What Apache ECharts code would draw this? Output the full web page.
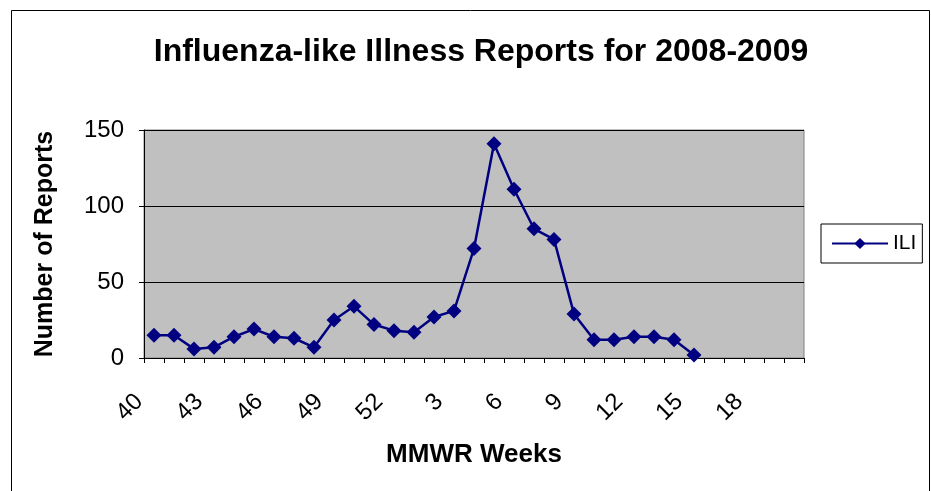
<!DOCTYPE html>
<html>
<head>
<meta charset="utf-8">
<script src="https://cdn.jsdelivr.net/npm/echarts@6/dist/echarts.min.js"></script>
<style>
  html, body { margin: 0; padding: 0; background: #fff; }
  #main { width: 931px; height: 491px; }
</style>
</head>
<body>
<div id="main"></div>
<script>
// MMWR weeks 40-52 of 2008, then 1-20 of 2009
const weeks = ['40','41','42','43','44','45','46','47','48','49','50','51','52',
  '1','2','3','4','5','6','7','8','9','10','11','12','13','14','15','16','17','18','19','20']
// ILI report counts (no data after week 15)
const iliCounts = [15, 15, 6, 7, 14, 19, 14, 13, 7, 25, 34, 22, 18,
  17, 27, 31, 72, 141, 111, 85, 78, 29, 12, 12, 14, 14, 12, 2, null, null, null, null, null]
const yTicks = { min: 0, max: 150, step: 50 }

const font = 'Liberation Sans, Arial, sans-serif'
const myChart = echarts.init(document.getElementById('main'))

const option = {
  backgroundColor: '#fff',
  animation: false,
  //外框
  graphic: [{
    type: 'rect',
    shape: { x: 11.5, y: 10.5, width: 918, height: 520 },
    style: { fill: 'none', stroke: '#000', lineWidth: 1 },
    silent: true
  }],
  title: {
    text: 'Influenza-like Illness Reports for 2008-2009',
    left: 476,
    top: 31,
    textAlign: 'center',
    textStyle: { fontFamily: font, fontSize: 32, fontWeight: 'bold', color: '#000' }
  },
  legend: {
    left: 821,
    top: 224,
    orient: 'vertical',
    padding: [9, 6, 9, 10],
    borderColor: '#000',
    borderWidth: 1,
    itemWidth: 56,
    itemHeight: 14,
    itemGap: 0,
    textStyle: { fontFamily: font, fontSize: 21, color: '#000' },
    data: ['ILI']
  },
  grid: {
    left: 144,
    right: 127,
    top: 130,
    bottom: 133,
    show: true,
    backgroundColor: '#c0c0c0',
    borderColor: '#808080',
    borderWidth: 1
  },
  xAxis: {
    type: 'category',
    data: weeks,
    boundaryGap: true,
    name: 'MMWR Weeks',
    nameLocation: 'middle',
    nameGap: 84,
    nameTextStyle: { fontFamily: font, fontSize: 26, fontWeight: 'bold', color: '#000' },
    axisLine: { lineStyle: { color: '#000', width: 1 } },
    axisTick: { show: true, interval: 0, length: 5, lineStyle: { color: '#000' } },
    axisLabel: {
      interval: 2,
      rotate: 45,
      margin: 25,
      padding: [0, 21, 0, 0],
      fontFamily: font,
      fontSize: 24,
      color: '#000'
    },
    splitLine: { show: false }
  },
  yAxis: {
    type: 'value',
    min: yTicks.min,
    max: yTicks.max,
    interval: yTicks.step,
    name: 'Number of Reports',
    nameLocation: 'middle',
    nameRotate: 90,
    nameGap: 86,
    nameTextStyle: { fontFamily: font, fontSize: 25, fontWeight: 'bold', color: '#000' },
    axisLine: { show: true, lineStyle: { color: '#000', width: 1 } },
    axisTick: { show: true, length: 5, lineStyle: { color: '#000' } },
    axisLabel: { margin: 20, fontFamily: font, fontSize: 24, color: '#000' },
    splitLine: { show: true, lineStyle: { color: '#000', width: 1 } }
  },
  series: [{
    name: 'ILI',
    type: 'line',
    data: iliCounts,
    connectNulls: false,
    symbol: 'diamond',
    symbolSize: 15,
    showAllSymbol: true,
    lineStyle: { color: '#000080', width: 2.5 },
    itemStyle: { color: '#000080' }
  }]
}
myChart.setOption(option)
</script>
</body>
</html>
